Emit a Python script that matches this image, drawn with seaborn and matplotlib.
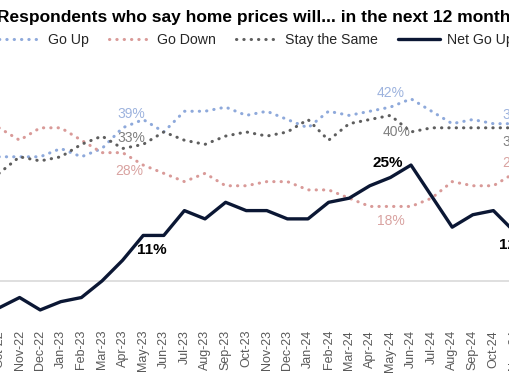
import numpy as np
import pandas as pd
import matplotlib
matplotlib.use("Agg")
import matplotlib.pyplot as plt
from matplotlib.lines import Line2D
import seaborn as sns

sns.set_style("white")
plt.rcParams['font.family'] = ['Liberation Sans', 'DejaVu Sans']

# Dados (percentuais mensais)
months = ["Oct-22", "Nov-22", "Dec-22", "Jan-23", "Feb-23", "Mar-23", "Apr-23",
          "May-23", "Jun-23", "Jul-23", "Aug-23", "Sep-23", "Oct-23", "Nov-23",
          "Dec-23", "Jan-24", "Feb-24", "Mar-24", "Apr-24", "May-24", "Jun-24",
          "Jul-24", "Aug-24", "Sep-24", "Oct-24", "Nov-24"]
go_up = [30, 30, 30, 32, 30, 32, 37, 39, 36, 41, 41, 42, 40, 41, 39, 37, 41,
         40, 41, 42, 44, 41, 38, 39, 38, 38]
go_down = [37, 34, 37, 37, 34, 31, 31, 28, 26, 24, 26, 23, 23, 24, 24, 22, 22,
           20, 18, 18, 18, 20, 24, 23, 23, 26]
stay_same = [26, 30, 29, 30, 33, 35, 32, 33, 36, 34, 33, 35, 36, 35, 36, 39, 34,
             38, 39, 40, 36, 37, 37, 37, 37, 37]
net_go_up = [-6.5, -4, -7, -5, -4, 0, 5, 11, 11, 17, 15, 19, 17, 17, 15, 15, 19,
             20, 23, 25, 28, 20.5, 13, 16, 17, 12]

df = pd.DataFrame({"month": months, "Go Up": go_up, "Go Down": go_down,
                   "Stay the Same": stay_same, "Net Go Up": net_go_up})
df["pos"] = np.arange(len(months))

c_up = "#8EA9DB"
c_down = "#D99A98"
c_stay = "#5E5E5E"
c_net = "#0B1734"
dots = (0, (0.1, 2.3))

W, H = 510, 382
fig = plt.figure(figsize=(W / 100, H / 100), dpi=100)
# eixo maior que a figura (grafico recortado)
x0 = -1 + 20.6 * (-1.5)
x1 = -1 + 20.6 * 26.5
ax = fig.add_axes([x0 / W, (H - 326.5) / H, (x1 - x0) / W, (326.5 - 74) / H])

ax.axhline(0, color="#D9D9D9", lw=1.2, zorder=1)

series = [("Go Up", c_up, dots), ("Go Down", c_down, dots),
          ("Stay the Same", c_stay, dots)]
for name, col, ls in series:
    sns.lineplot(data=df, x="pos", y=name, ax=ax, color=col, lw=2.2,
                 linestyle=ls, dash_capstyle="round", zorder=2)
sns.lineplot(data=df, x="pos", y="Net Go Up", ax=ax, color=c_net, lw=2.4,
             zorder=3)

ax.set_xlim(-1.5, 26.5)
ax.set_ylim(-11, 50)
ax.set_xticks(df["pos"])
ax.set_xticklabels(months, rotation=90, fontsize=9, color="#595959")
ax.tick_params(axis="x", length=0, pad=2.5)
ax.set_yticks([])
ax.set_xlabel("")
ax.set_ylabel("")
sns.despine(ax=ax, left=True, bottom=True)

# Rotulos de dados
def lab(col, i, txt_color, dx, dy, bold=False, size=10):
    v = df[col].iloc[i]
    ax.annotate(f"{v:.0f}%", (i, v), xytext=(dx, dy), textcoords="offset pixels",
                ha="center", va="center", color=txt_color, fontsize=size,
                fontweight="bold" if bold else "normal", zorder=5)

i23 = months.index("May-23")
i24 = months.index("May-24")
i_last = len(months) - 1
lab("Go Up", i23, "#9DB3DE", -12, 6)
lab("Stay the Same", i23, "#7F7F7F", -12, 6)
lab("Go Down", i23, "#D9A3A1", -14, -6)
lab("Net Go Up", i23, "#000000", 9, -14.5, bold=True, size=11)
lab("Go Up", i24, "#9DB3DE", 0, 14)
lab("Stay the Same", i24, "#7F7F7F", 6, -17)
lab("Go Down", i24, "#D9A3A1", 0, -14.5)
lab("Net Go Up", i24, "#000000", -3, 14.5, bold=True, size=11)
lab("Go Up", i_last, "#9DB3DE", 2, 9)
lab("Stay the Same", i_last, "#7F7F7F", 2, -14)
lab("Go Down", i_last, "#D9A3A1", 2, 10)
lab("Net Go Up", i_last, "#000000", 0, -14, bold=True, size=11)

# Titulo e legenda
fig.text(-3 / W, (H - 22) / H,
         "Respondents who say home prices will... in the next 12 months",
         ha="left", va="baseline", fontsize=12.5, fontweight="bold", color="black")

handles = [Line2D([], [], color=c_up, lw=2.2, linestyle=dots, dash_capstyle="round"),
           Line2D([], [], color=c_down, lw=2.2, linestyle=dots, dash_capstyle="round"),
           Line2D([], [], color=c_stay, lw=2.2, linestyle=dots, dash_capstyle="round"),
           Line2D([], [], color=c_net, lw=2.4)]
fig.legend(handles, ["Go Up", "Go Down", "Stay the Same", "Net Go Up"],
           loc="center left", bbox_to_anchor=(-0.002, (H - 40) / H), ncol=4,
           frameon=False, fontsize=10.2, handlelength=2.95, handletextpad=0.5,
           columnspacing=1.4, borderpad=0, borderaxespad=0)

fig.savefig("out.png", dpi=100)
